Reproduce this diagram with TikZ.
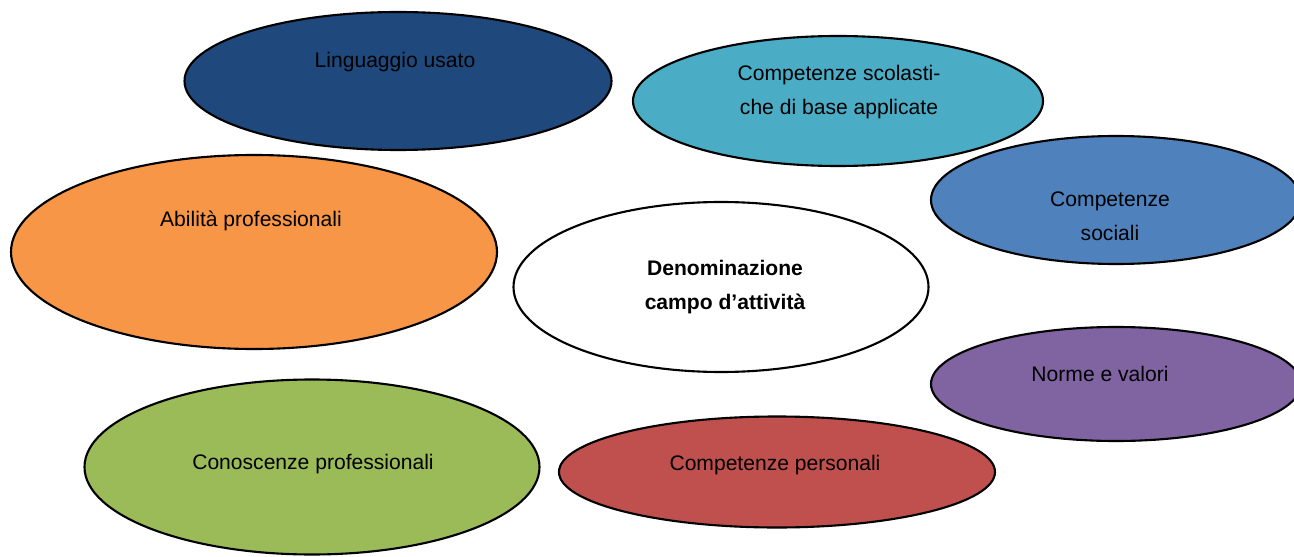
\documentclass[tikz,border=0pt]{standalone}
\usepackage{fontspec}
\setmainfont{Liberation Sans}
\usepackage{xcolor}
\usepackage{tikz}
\usetikzlibrary{shapes.geometric}

\definecolor{darkblu}{HTML}{1F497D}
\definecolor{acqua}{HTML}{4BACC6}
\definecolor{blu}{HTML}{4F81BD}
\definecolor{arancio}{HTML}{F79646}
\definecolor{viola}{HTML}{8064A2}
\definecolor{verde}{HTML}{9BBB59}
\definecolor{rosso}{HTML}{C0504D}

\tikzset{
  bolla/.style={ellipse, draw=black, line width=1.2pt, inner sep=0pt},
  testo/.style={font=\fontsize{12}{19.5}\selectfont, align=center, inner sep=0pt}
}

\begin{document}
\begin{tikzpicture}[x=0.02cm,y=-0.02cm]
\useasboundingbox (0,0) rectangle (1294,557);

% ellissi
\node[bolla, fill=darkblu, minimum width=427*0.02cm, minimum height=138*0.02cm] (ling) at (398,81) {};
\node[bolla, fill=acqua, minimum width=410*0.02cm, minimum height=130*0.02cm] (scol) at (838,101) {};
\node[bolla, fill=blu, minimum width=370*0.02cm, minimum height=128*0.02cm] (soc) at (1116,200) {};
\node[bolla, fill=arancio, minimum width=486*0.02cm, minimum height=194*0.02cm] (abil) at (254,252) {};
\node[bolla, fill=white, minimum width=415*0.02cm, minimum height=170*0.02cm] (denom) at (721,287) {};
\node[bolla, fill=viola, minimum width=370*0.02cm, minimum height=114*0.02cm] (norme) at (1116,384) {};
\node[bolla, fill=verde, minimum width=455*0.02cm, minimum height=175*0.02cm] (cono) at (312,467) {};
\node[bolla, fill=rosso, minimum width=436*0.02cm, minimum height=111*0.02cm] (pers) at (777,472) {};

% testi
\node[testo] (tling) at (395,62) {Linguaggio usato};
\node[testo] (tscol) at (839,92) {Competenze scolasti-\\che di base applicate};
\node[testo] (tsoc) at (1110,216) {Competenze\\sociali};
\node[testo] (tabil) at (251,221) {Abilità professionali};
\node[testo, font=\fontsize{12}{19.5}\selectfont\bfseries] (tdenom) at (725,287) {Denominazione\\campo d’attività};
\node[testo] (tnorme) at (1100,374) {Norme e valori};
\node[testo] (tcono) at (313,464) {Conoscenze professionali};
\node[testo] (tpers) at (775,465) {Competenze personali};
\end{tikzpicture}
\end{document}
